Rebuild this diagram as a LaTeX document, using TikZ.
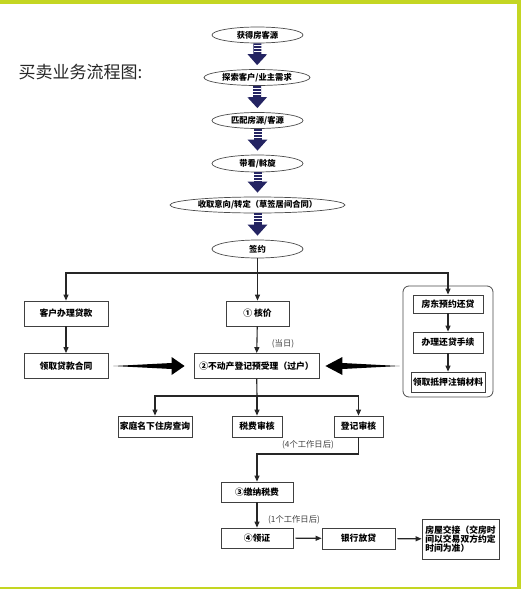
\documentclass[tikz,border=0pt]{standalone}
\usepackage{fontspec}
\setmainfont{Noto Sans CJK SC}
\usepackage{tikz}
\usetikzlibrary{positioning,arrows.meta,shapes.geometric,calc}
\definecolor{lime}{RGB}{196,214,34}
\definecolor{navy}{RGB}{36,36,98}

\begin{document}
\begin{tikzpicture}[x=1pt,y=-1pt,
                ell/.style={draw=black!70,line width=.7pt,ellipse,minimum width=91pt,minimum height=16pt,inner sep=0pt,font=\bfseries\fontsize{8.3}{9}\selectfont},
                box/.style={draw=black!75,line width=.8pt,rectangle,minimum height=25pt,inner sep=0pt,font=\bfseries\fontsize{8.8}{9}\selectfont},
                note/.style={font=\fontsize{8.3}{9}\selectfont,text=black!75},
                big/.style={navy,line width=8pt,-{Triangle[width=19pt,length=11pt]},shorten >=4pt},
                stripe/.style={white,line width=8pt,dash pattern=on .6pt off 2.4pt},
                con/.style={black!85,line width=1.1pt,-{Triangle[width=5pt,length=6pt]}},
                bar/.style={black!85,line width=1.1pt}
            ]
                \useasboundingbox (0,0) rectangle (521,589);
                \fill[white] (0,0) rectangle (521,589);
                \fill[lime] (0,0) rectangle (521,3.5);
                \fill[lime] (517,0) rectangle (521,589);
                \fill[lime] (0,586.5) rectangle (521,589);

                \node[anchor=west,text=black!85,font=\fontsize{17}{20}\selectfont] (title) at (15,72) {买卖业务流程图:};

                \node[ell] (s1) at (257.5,35) {获得房客源};
                \node[ell,minimum width=106pt] (s2) at (257,77.5) {探索客户/业主需求};
                \node[ell] (s3) at (257.5,120.5) {匹配房源/客源};
                \node[ell,minimum height=17pt] (s4) at (257.5,163.5) {带看/斡旋};
                \node[ell,minimum width=175pt] (s5) at (257.5,205) {收取意向/转定（草签居间合同）};
                \node[ell,minimum height=18pt] (s6) at (257.5,249) {签约};

                \foreach \i/\j in {1/2,2/3,3/4,4/5,5/6} {
                    \draw[big] (s\i) -- (s\j);
                    \draw[stripe] ($(s\i.south)+(0,2)$) -- ($(s\i.south)+(0,9)$);
                }

                \node[box,minimum width=84pt] (l1) at (66,313.5) {客户办理贷款};
                \node[box,minimum width=84pt] (l2) at (66,366) {领取贷款合同};
                \node[box,minimum width=63pt] (m1) at (257.5,313.5) {① 核价};
                \node[box,minimum width=125pt] (m2) at (256.5,366) {②不动产登记预受理（过户）};
                \node[note] (n1) at (283,344) {(当日)};

                \node[draw=black!70,line width=.8pt,rounded corners=6pt,minimum width=90pt,minimum height=111pt] (rc) at (448,341.5) {};
                \node[box,minimum width=70pt,minimum height=18pt] (r1) at (448,304) {房东预约还贷};
                \node[box,minimum width=70pt,minimum height=21pt] (r2) at (448,342.5) {办理还贷手续};
                \node[box,minimum width=74pt,minimum height=20pt] (r3) at (448,382) {领取抵押注销材料};

                \node[box,minimum width=74pt,minimum height=21pt] (q1) at (155,426.5) {家庭名下住房查询};
                \node[box,minimum width=50pt,minimum height=21pt] (q2) at (257,426.5) {税费审核};
                \node[box,minimum width=49pt,minimum height=21pt] (q3) at (358.5,426.5) {登记审核};
                \node[note] (n2) at (308,445) {(4个工作日后)};

                \node[box,minimum width=72pt,minimum height=20pt] (p1) at (257,492) {③缴纳税费};
                \node[note] (n3) at (294,520) {(1个工作日后)};
                \node[box,minimum width=72pt,minimum height=20pt] (p2) at (257,538) {④领证};
                \node[box,minimum width=73pt,minimum height=21pt] (p3) at (358.5,538.5) {银行放贷};
                \node[box,minimum width=77pt,minimum height=40pt,align=left] (p4) at (460.5,539) {房屋交接（交房时\\间以交易双方约定\\时间为准）};

                \coordinate (t) at (257.5,273);
                \coordinate (u) at (257,396);
                \coordinate (v) at (257,454);

                \draw[bar] (s6) -- (t);
                \draw[bar] (m2) -- (u);
                \begin{scope}[con]
                    \draw (t) -| (l1);
                    \draw (t) -- (m1);
                    \draw (t) -| (r1);
                    \draw (l1) -- (l2);
                    \draw (m1) -- (m2);
                    \draw (r1) -- (r2);
                    \draw (r2) -- (r3);
                    \draw (u) -| (q1);
                    \draw (u) -- (q2);
                    \draw (u) -| (q3);
                    \draw (q3) |- (v) -- (p1);
                    \draw (p1) -- (p2);
                    \draw[shorten <=2pt] (p2) -- (p3);
                    \draw[shorten <=2pt] (p3) -- (p4);
                \end{scope}

                \fill[black] ($(l2.east)+(5,0)$) -- ($(m2.west)+(-22,-3)$) -- ($(m2.west)+(-22,-9)$) -- ($(m2.west)+(-9,0)$) -- ($(m2.west)+(-22,9)$) -- ($(m2.west)+(-22,3)$) -- cycle;
                \fill[black] ($(rc.west |- m2)+(-3,0)$) -- ($(m2.east)+(23,-3)$) -- ($(m2.east)+(23,-9)$) -- ($(m2.east)+(6,0)$) -- ($(m2.east)+(23,9)$) -- ($(m2.east)+(23,3)$) -- cycle;
            \end{tikzpicture}
\end{document}
